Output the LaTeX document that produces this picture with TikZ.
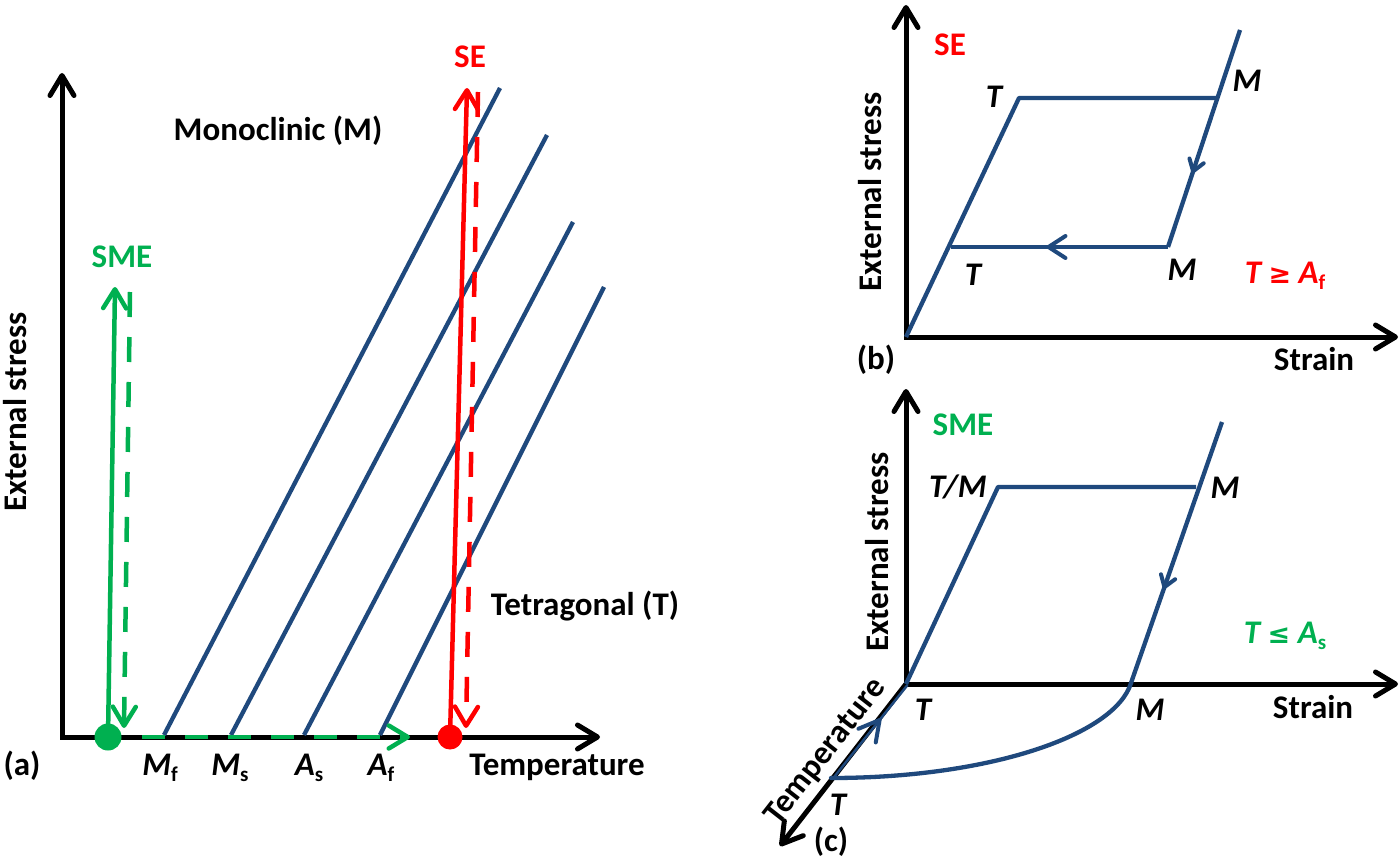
\documentclass[tikz,border=0pt]{standalone}
\usepackage{fontspec}
\setmainfont{Carlito}
\newfontfamily\symfont{DejaVu Sans}
\usetikzlibrary{arrows.meta,decorations.markings}
\definecolor{dblue}{RGB}{31,73,125}
\definecolor{sgreen}{RGB}{0,176,80}
\definecolor{sred}{RGB}{255,0,0}
\newcommand{\lsub}[1]{\raisebox{-6pt}{\fontsize{21}{21}\selectfont\bfseries\upshape #1}}
\newcommand{\relsym}[1]{{\symfont\fontsize{27}{30}\selectfont #1}}
\begin{document}
\begin{tikzpicture}[x=1pt,y=-1pt,
  >={Straight Barb[length=20pt,width=24pt,round]},
  lbl/.style={font=\fontsize{33}{39}\selectfont\bfseries,inner sep=0pt,anchor=base},
  ilbl/.style={lbl,font=\fontsize{33}{39}\selectfont\bfseries\itshape},
  axis/.style={line width=5pt,line join=miter},
  bline/.style={dblue,line width=4.3pt,line join=round},
  midarr/.style n args={3}{postaction={decorate},decoration={markings,mark=at position #1 with {\arrow{Straight Barb[length=#2,width=#3,round,line width=4pt]}}}},
  dsh/.style={dash pattern=on 25pt off 20pt},
  gtip/.style={-{Straight Barb[length=19pt,width=23pt,round]}},
  dot/.style={circle,inner sep=0pt,minimum size=#1},
]
\useasboundingbox (0,0) rectangle (1400,859);
\fill[white] (0,0) rectangle (1400,859);

% ================= panel (a) =================
\coordinate (oa) at (62,737);
\coordinate (ya) at (62,73);
\coordinate (xa) at (600,737);
\draw[axis,<->] (ya) -- (oa) -- (xa);

\coordinate (l1b) at (164,735); \coordinate (l1t) at (500,88);
\coordinate (l2b) at (231,735); \coordinate (l2t) at (547,135);
\coordinate (l3b) at (304,735); \coordinate (l3t) at (573,222);
\coordinate (l4b) at (380,735); \coordinate (l4t) at (604,287);
\draw[bline] (l1b) -- (l1t);
\draw[bline] (l2b) -- (l2t);
\draw[bline] (l3b) -- (l3t);
\draw[bline] (l4b) -- (l4t);

% green SME
\coordinate (gs0) at (108,737);
\coordinate (gs1) at (115,287);
\coordinate (gd0) at (130,292);
\coordinate (gd1) at (124,728);
\coordinate (gh0) at (142,737);
\coordinate (gh1) at (410,737);
\draw[sgreen,line width=4.5pt,gtip] (gs0) -- (gs1);
\draw[sgreen,line width=4.5pt,dsh,gtip] (gd0) -- (gd1);
\draw[sgreen,line width=4.5pt,dash pattern=on 23pt off 20pt,gtip] (gh0) -- (gh1);
\node[dot=27pt,fill=sgreen] (gdot) at (gs0) {};

% red SE
\coordinate (rs0) at (450,737);
\coordinate (rs1) at (467,88);
\coordinate (rd0) at (478,92);
\coordinate (rd1) at (466,728);
\draw[sred,line width=4.5pt,gtip] (rs0) -- (rs1);
\draw[sred,line width=4.5pt,dsh,gtip] (rd0) -- (rd1);
\node[dot=25pt,fill=sred] (rdot) at (rs0) {};

\node[lbl,text=sgreen] (smea) at (122,267) {SME};
\node[lbl,text=sred] (sea) at (470,67) {SE};
\node[lbl] (mono) at (278,140) {Monoclinic (M)};
\node[lbl] (tetra) at (585,615) {Tetragonal (T)};
\node[lbl,rotate=90,anchor=center] (esa) at (15,412) {External stress};
\node[lbl] (pa) at (22,775) {(a)};
\node[ilbl] (mf) at (160,775) {M\lsub{f}};
\node[ilbl] (ms) at (230,775) {M\lsub{s}};
\node[ilbl] (as) at (309,775) {A\lsub{s}};
\node[ilbl] (af) at (381,775) {A\lsub{f}};
\node[lbl] (tempa) at (557,775) {Temperature};

% ================= panel (b) =================
\coordinate (ob) at (906,337);
\coordinate (yb) at (906,5);
\coordinate (xb) at (1398,337);
\draw[axis,<->] (yb) -- (ob) -- (xb);
\coordinate (b1) at (1019,98);
\coordinate (b2) at (1217,98);
\coordinate (b3) at (1240,30);
\coordinate (b4) at (1168,247);
\coordinate (b5) at (951,247);
\draw[bline] (ob) -- (b1) -- (b2);
\draw[bline,midarr={0.66}{11pt}{15pt}] (b3) -- (b4);
\draw[bline,midarr={0.56}{17pt}{22pt}] (b4) -- (b5);

\node[lbl,text=sred] (seb) at (950,56) {SE};
\node[ilbl] (tb1) at (994,107) {T};
\node[ilbl] (mb1) at (1247,92) {M};
\node[ilbl] (tb2) at (973,285) {T};
\node[ilbl] (mb2) at (1182,280) {M};
\node[ilbl,text=sred] (condb) at (1285,283) {T \relsym{≥} A\lsub{f}};
\node[lbl] (strb) at (1314,370) {Strain};
\node[lbl,anchor=center] (pb) at (876,360) {(b)};
\node[lbl,rotate=90,anchor=center] (esb) at (870,192) {External stress};

% ================= panel (c) =================
\coordinate (oc) at (906,684);
\coordinate (yc) at (906,389);
\coordinate (xc) at (1398,684);
\coordinate (tc) at (780,846);
\draw[axis,<->] (yc) -- (oc) -- (xc);
\draw[axis,->] (oc) -- (tc);
\coordinate (c1) at (998,487);
\coordinate (c2) at (1196,487);
\coordinate (c3) at (1222,422);
\coordinate (c4) at (1131,683);
\coordinate (c5) at (831,778);
\draw[bline] (oc) -- (c1) -- (c2);
\draw[bline,midarr={0.64}{11pt}{15pt}] (c3) -- (c4);
\draw[bline,line cap=round] (c4) .. controls (1115,735) and (990,778) .. (c5);
\draw[dblue,line width=2.5pt,midarr={0.645}{20pt}{22pt}] ([shift={(1.5,1)}]c5) -- ([shift={(1.5,1)}]oc);

\node[lbl,text=sgreen] (smec) at (963,435) {SME};
\node[ilbl] (tmc) at (958,497) {T/M};
\node[ilbl] (mc1) at (1225,498) {M};
\node[ilbl,text=sgreen] (condc) at (1285,643) {T \relsym{≤} A\lsub{s}};
\node[ilbl] (tc1) at (923,720) {T};
\node[ilbl] (mc2) at (1150,720) {M};
\node[lbl] (strc) at (1313,718) {Strain};
\node[ilbl] (tc2) at (838,815) {T};
\node[lbl,anchor=center] (pc) at (831,842) {(c)};
\node[lbl,rotate=90,anchor=center] (esc) at (877,552) {External stress};
\node[lbl,rotate=52,anchor=center] (tempc) at (826,752) {Temperature};
\end{tikzpicture}
\end{document}
